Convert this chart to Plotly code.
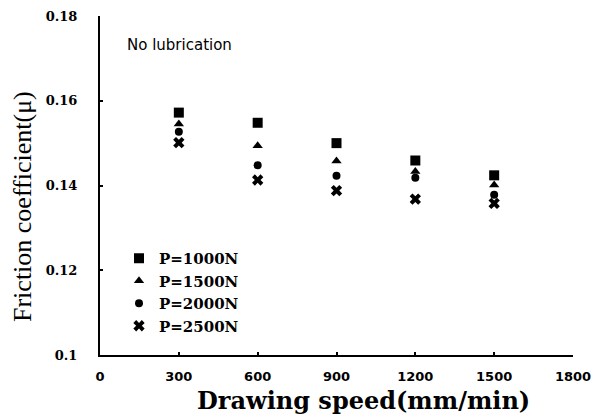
import plotly.graph_objects as go

speeds = [300, 600, 900, 1200, 1500]
mu_1000 = [0.1572, 0.1548, 0.1500, 0.1459, 0.1424]
mu_1500 = [0.1545, 0.1494, 0.1458, 0.1433, 0.1401]
mu_2000 = [0.1527, 0.1448, 0.1423, 0.1418, 0.1378]
mu_2500 = [0.1501, 0.1413, 0.1388, 0.1368, 0.1358]

series = [
    ("P=1000N", mu_1000, "square", 10),
    ("P=1500N", mu_1500, "triangle-up", 9),
    ("P=2000N", mu_2000, "circle", 8),
    ("P=2500N", mu_2500, "x", 10),
]

L, R, T, B = 100, 25, 16, 61
W, H = 598, 416
PW, PH = W - L - R, H - T - B


def px(x):
    return (x - L) / PW


def py(y):
    return (H - B - y) / PH


fig = go.Figure()
for name, vals, sym, sz in series:
    fig.add_trace(go.Scatter(
        x=speeds, y=vals, mode="markers", name=name,
        marker=dict(symbol=sym, size=sz, color="black", line=dict(width=0)),
    ))

fig.update_layout(
    width=W, height=H,
    margin=dict(l=L, r=R, t=T, b=B),
    paper_bgcolor="white", plot_bgcolor="white",
    showlegend=True,
    legend=dict(
        x=px(119), y=py(242), xanchor="left", yanchor="top",
        bgcolor="rgba(0,0,0,0)",
        font=dict(family="DejaVu Serif", size=15, color="black", weight="bold"),
        itemwidth=30, tracegroupgap=0,
    ),
    annotations=[
        dict(
            text="No lubrication", x=px(125), y=py(45), xref="paper", yref="paper",
            xanchor="left", yanchor="middle", showarrow=False,
            font=dict(family="DejaVu Sans", size=15, color="black"),
        ),
        dict(
            text="Friction coefficient(μ)", x=px(22), y=py(207), xref="paper", yref="paper",
            showarrow=False, textangle=-90, xanchor="center", yanchor="middle",
            font=dict(family="Liberation Serif", size=26, color="black"),
        ),
        dict(
            text="<b>Drawing speed(mm/min)</b>", x=px(363), y=py(401), xref="paper", yref="paper",
            showarrow=False, xanchor="center", yanchor="middle",
            font=dict(family="DejaVu Serif", size=24, color="black"),
        ),
    ],
)

fig.update_xaxes(
    range=[0, 1800], tickvals=[0, 300, 600, 900, 1200, 1500, 1800],
    showgrid=False, zeroline=False, automargin=False,
    showline=True, linecolor="black", linewidth=2,
    ticks="inside", ticklen=3, tickcolor="black", tickwidth=2,
    tickfont=dict(family="DejaVu Sans", size=13, color="black", weight="bold"),
    ticklabelstandoff=8,
)
fig.update_yaxes(
    range=[0.1, 0.18], tickvals=[0.1, 0.12, 0.14, 0.16, 0.18],
    ticktext=["0.1", "0.12", "0.14", "0.16", "0.18"],
    showgrid=False, zeroline=False, automargin=False,
    showline=True, linecolor="black", linewidth=2,
    ticks="inside", ticklen=3, tickcolor="black", tickwidth=2,
    tickfont=dict(family="DejaVu Serif", size=13, color="black", weight="bold"),
    ticklabelstandoff=18,
)

fig.write_html("out.html", config={"displayModeBar": False},
               post_script="document.body.style.margin='0';")
